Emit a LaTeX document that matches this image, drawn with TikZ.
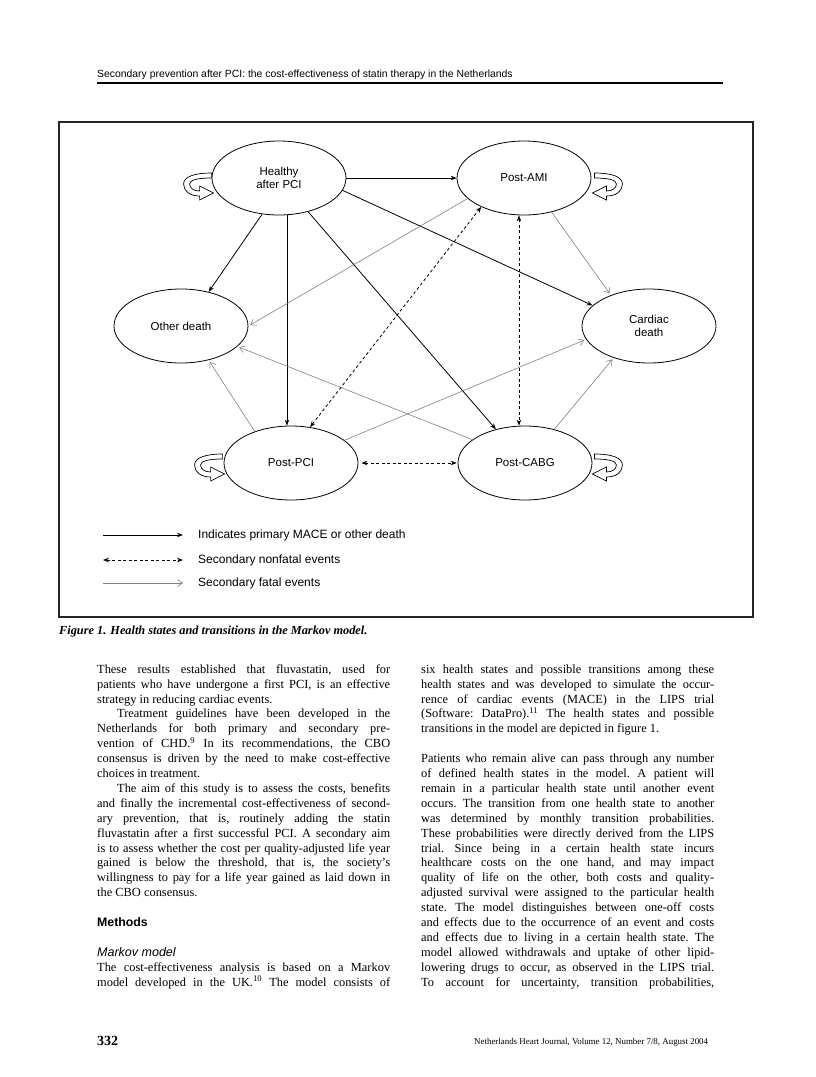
\documentclass[tikz,border=0pt]{standalone}
\usepackage{fontspec}
\setmainfont{Liberation Serif}
\setsansfont{Liberation Sans}
\usetikzlibrary{arrows.meta, positioning, shapes.geometric}

% one justified line of a text column, and the last line of a paragraph
\newcommand{\bodyrow}[1]{\hbox to 293pt{\frenchspacing\spaceskip=0pt\xspaceskip=0pt #1}\par}
\newcommand{\lastrow}[1]{\hbox to 293pt{\frenchspacing\spaceskip=0pt\xspaceskip=0pt #1\hfil}\par}

\tikzset{
  selfloop/.pic={
    \draw[line width=0.7pt, fill=white] (0,0) .. controls (18,0) and (28,4) .. (28,11)
      .. controls (28,18) and (22,23) .. (12,23) -- (12,27) -- (-2,20) -- (12,13) -- (12,18)
      .. controls (18,18) and (22,15) .. (22,11) .. controls (22,7) and (14,5) .. (0,5) -- cycle;
  }
}

\begin{document}
\begin{tikzpicture}[x=1pt, y=-1pt, >=Stealth,
    state/.style={draw, ellipse, line width=0.8pt, minimum width=134pt, minimum height=74pt,
      inner sep=0pt, align=center, font=\sffamily\fontsize{11.5}{13.5}\selectfont},
    primary/.style={line width=0.8pt, -{Stealth[length=6pt,width=4.5pt]}},
    nonfatal/.style={line width=0.8pt, dash pattern=on 3pt off 2.5pt,
      {Stealth[length=6pt,width=4.5pt]}-{Stealth[length=6pt,width=4.5pt]}},
    fatal/.style={line width=0.6pt, gray, -{Straight Barb[length=5pt,width=7pt]}},
    legendtext/.style={anchor=west, inner sep=0pt, font=\sffamily\fontsize{12}{14}\selectfont},
    column/.style={anchor=north west, inner sep=0pt, text width=293pt, align=justify,
      font=\fontsize{12.4}{14.9}\selectfont}]
    \useasboundingbox (0,0) rectangle (816,1077);

    % Kopregel
    \node[anchor=base west, inner sep=0pt, font=\sffamily\fontsize{10.4}{12}\selectfont]
        (header) at (97,77) {Secondary prevention after PCI: the cost-effectiveness of statin therapy in the Netherlands};
    \draw[line width=1.6pt] (97,83) -- (723,83);

    % Kader van de figuur
    \draw[line width=1.1pt, black!85] (59,122) rectangle (753,617);

    % Gezondheidstoestanden
    \node[state] (healthy) at (279,178) {Healthy\\after PCI};
    \node[state] (postami) at (524,178) {Post-AMI};
    \node[state] (otherdeath) at (181,326) {Other death};
    \node[state] (cardiac) at (649,326) {Cardiac\\death};
    \node[state] (postpci) at (291,463) {Post-PCI};
    \node[state] (postcabg) at (525,463) {Post-CABG};

    % Blijven in dezelfde toestand
    \pic[xscale=-1] at ([yshift=5pt]healthy.west) {selfloop};
    \pic at ([shift={(3,-5)}]postami.east) {selfloop};
    \pic[xscale=-1] at ([shift={(-1,-9)}]postpci.west) {selfloop};
    \pic at ([shift={(2,-9)}]postcabg.east) {selfloop};

    % Primaire MACE of andere dood
    \draw[primary] (healthy) -- (postami);
    \draw[primary] (healthy.-115) -- (otherdeath.51);
    \draw[primary] ([xshift=8pt]healthy.south) -- ([xshift=-4pt]postpci.north);
    \draw[primary] (healthy) -- (postcabg);
    \draw[primary] (healthy.-11) -- (cardiac.160);

    % Secundaire fatale gebeurtenissen
    \draw[fatal, shorten >=2pt] (postami.-160) -- (otherdeath.east);
    \draw[fatal, shorten >=2pt] (postami.-51) -- (cardiac.141);
    \draw[fatal, shorten >=2pt] (postpci.139) -- (otherdeath.-51);
    \draw[fatal, shorten >=2pt] (postcabg.156) -- (otherdeath.-20);
    \draw[fatal, shorten >=2pt] (postpci.23) -- (cardiac.-168);
    \draw[fatal, shorten >=2pt] (postcabg.49) -- (cardiac.-138);

    % Secundaire niet-fatale gebeurtenissen
    \draw[nonfatal] (postpci.62) -- (postami.-146);
    \draw[nonfatal] ([xshift=-5pt]postami.south) -- ([xshift=-6pt]postcabg.north);
    \draw[nonfatal, shorten <=3pt, shorten >=1pt] (postpci) -- (postcabg);

    % Legenda
    \coordinate (lgprimA) at (103,535);
    \coordinate (lgprimB) at (183,535);
    \coordinate (lgnonA) at (103,560);
    \coordinate (lgnonB) at (183,560);
    \coordinate (lgfatA) at (103,583);
    \coordinate (lgfatB) at (183,583);
    \draw[primary] (lgprimA) -- (lgprimB);
    \draw[nonfatal] (lgnonA) -- (lgnonB);
    \draw[fatal] (lgfatA) -- (lgfatB);
    \node[legendtext] (lgprim) at (198,535) {Indicates primary MACE or other death};
    \node[legendtext] (lgnon) at (198,560) {Secondary nonfatal events};
    \node[legendtext] (lgfat) at (198,583) {Secondary fatal events};

    % Onderschrift
    \node[anchor=base west, inner sep=0pt, font=\bfseries\itshape\fontsize{12.3}{14}\selectfont]
        (caption) at (59,634) {Figure 1. Health states and transitions in the Markov model.};

    % Linker kolom
    \node[column] (leftcol) at (97,662.6) {%
      \bodyrow{\strut These results established that fluvastatin, used for}
      \bodyrow{patients who have undergone a first PCI, is an effective}
      \lastrow{strategy in reducing cardiac events.}
      \bodyrow{\hspace*{20pt}Treatment guidelines have been developed in the}
      \bodyrow{Netherlands for both primary and secondary pre-}
      \bodyrow{vention of CHD.\textsuperscript{9} In its recommendations, the CBO}
      \bodyrow{consensus is driven by the need to make cost-effective}
      \lastrow{choices in treatment.}
      \bodyrow{\hspace*{20pt}The aim of this study is to assess the costs, benefits}
      \bodyrow{and finally the incremental cost-effectiveness of second-}
      \bodyrow{ary prevention, that is, routinely adding the statin}
      \bodyrow{fluvastatin after a first successful PCI. A secondary aim}
      \bodyrow{is to assess whether the cost per quality-adjusted life year}
      \bodyrow{gained is below the threshold, that is, the society’s}
      \bodyrow{willingness to pay for a life year gained as laid down in}
      \lastrow{the CBO consensus.}
      \vspace{14.9pt}
      \lastrow{\sffamily\bfseries\fontsize{12.3}{14.9}\selectfont Methods}
      \vspace{14.9pt}
      \lastrow{\sffamily\itshape\fontsize{12.5}{14.9}\selectfont Markov model}
      \bodyrow{The cost-effectiveness analysis is based on a Markov}
      \bodyrow{model developed in the UK.\textsuperscript{10} The model consists of}};

    % Rechter kolom
    \node[column] (rightcol) at (421,662.6) {%
      \bodyrow{\strut six health states and possible transitions among these}
      \bodyrow{health states and was developed to simulate the occur-}
      \bodyrow{rence of cardiac events (MACE) in the LIPS trial}
      \bodyrow{(Software: DataPro).\textsuperscript{11} The health states and possible}
      \lastrow{transitions in the model are depicted in figure 1.}
      \vspace{14.9pt}
      \bodyrow{Patients who remain alive can pass through any number}
      \bodyrow{of defined health states in the model. A patient will}
      \bodyrow{remain in a particular health state until another event}
      \bodyrow{occurs. The transition from one health state to another}
      \bodyrow{was determined by monthly transition probabilities.}
      \bodyrow{These probabilities were directly derived from the LIPS}
      \bodyrow{trial. Since being in a certain health state incurs}
      \bodyrow{healthcare costs on the one hand, and may impact}
      \bodyrow{quality of life on the other, both costs and quality-}
      \bodyrow{adjusted survival were assigned to the particular health}
      \bodyrow{state. The model distinguishes between one-off costs}
      \bodyrow{and effects due to the occurrence of an event and costs}
      \bodyrow{and effects due to living in a certain health state. The}
      \bodyrow{model allowed withdrawals and uptake of other lipid-}
      \bodyrow{lowering drugs to occur, as observed in the LIPS trial.}
      \bodyrow{To account for uncertainty, transition probabilities,}};

    % Voetregel
    \node[anchor=base west, inner sep=0pt, font=\bfseries\fontsize{14}{16}\selectfont]
        (pagenum) at (97,1045) {332};
    \node[anchor=base west, inner sep=0pt, font=\fontsize{8.9}{10}\selectfont]
        (journal) at (474,1044) {Netherlands Heart Journal, Volume 12, Number 7/8, August 2004};
\end{tikzpicture}
\end{document}
